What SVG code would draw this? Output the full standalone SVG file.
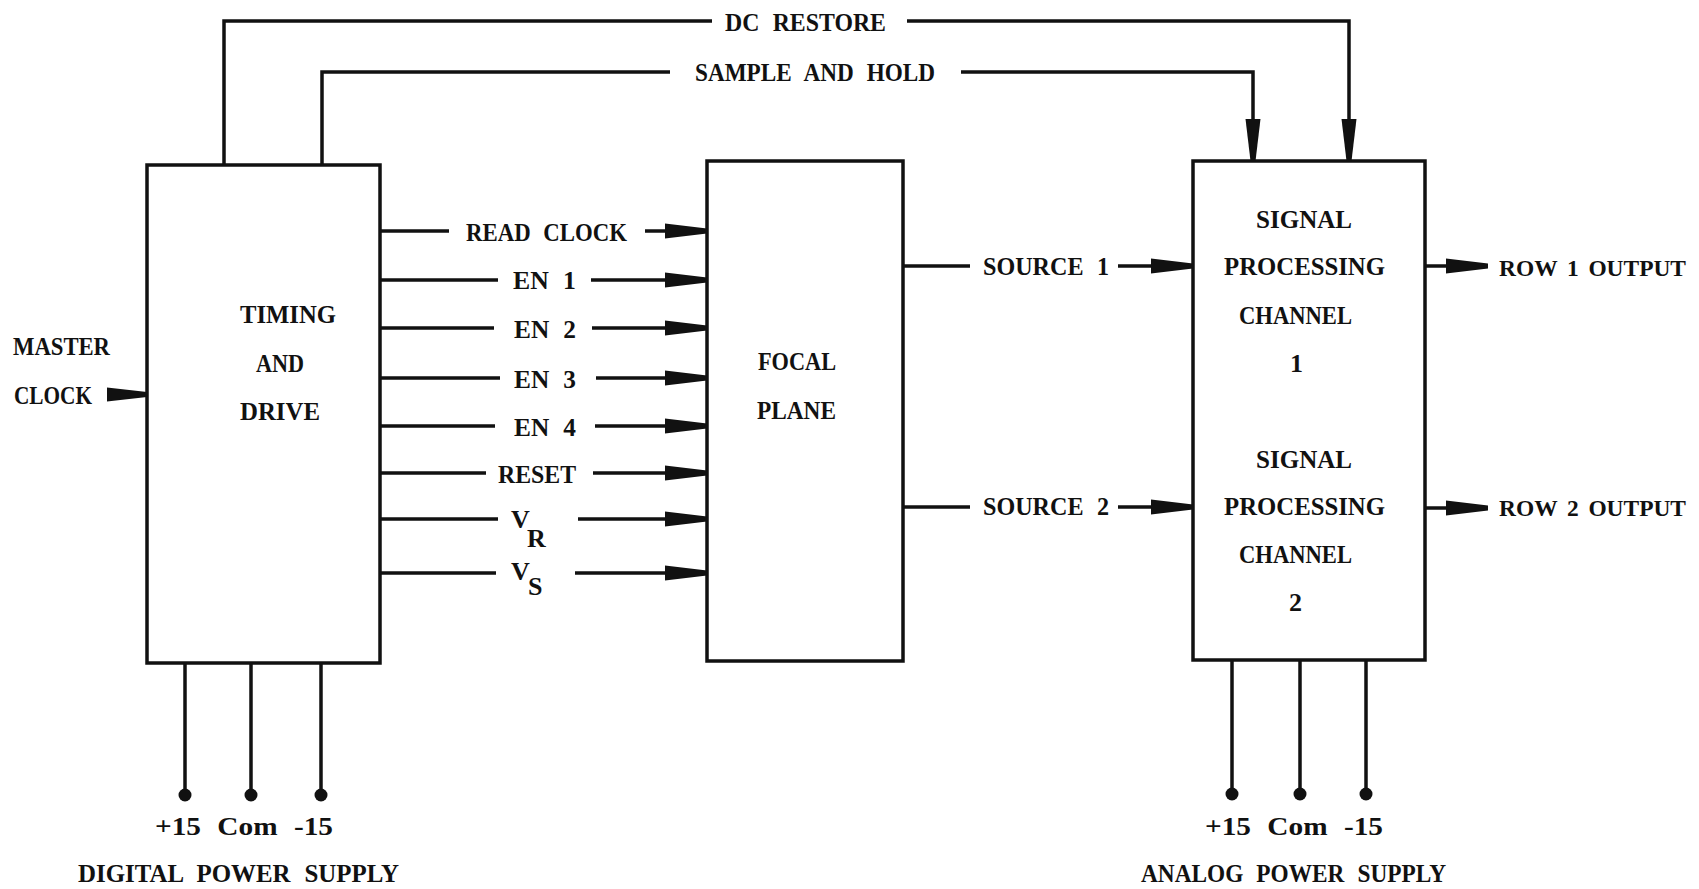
<svg xmlns="http://www.w3.org/2000/svg" width="1699" height="889" viewBox="0 0 1699 889">
<style>
.t{font-family:"Liberation Serif","DejaVu Serif",serif;font-weight:bold;font-size:26px;fill:#111;word-spacing:8px}
.o{font-size:24px;word-spacing:4px}
.box{fill:none;stroke:#111;stroke-width:3.5}
.ln{fill:none;stroke:#111;stroke-width:3.5}
.dot{fill:#111}
</style>
<defs>
<marker id="ah" viewBox="0 -8 42 16" markerWidth="42" markerHeight="16" refX="42" refY="0" orient="auto" markerUnits="userSpaceOnUse">
<path d="M0,-7.5 L42,-2.5 L42,2.5 L0,7.5 Z" fill="#111"/>
</marker>
</defs>
<rect width="1699" height="889" fill="#fff"/>

<g id="timing">
<rect class="box" x="147" y="165" width="233" height="498"/>
<text class="t" x="240" y="323" textLength="96" lengthAdjust="spacingAndGlyphs">TIMING</text>
<text class="t" x="256" y="372" textLength="48" lengthAdjust="spacingAndGlyphs">AND</text>
<text class="t" x="240" y="420" textLength="80" lengthAdjust="spacingAndGlyphs">DRIVE</text>
</g>

<g id="focal">
<rect class="box" x="707" y="161" width="196" height="500"/>
<text class="t" x="758" y="370" textLength="78" lengthAdjust="spacingAndGlyphs">FOCAL</text>
<text class="t" x="757" y="419" textLength="79" lengthAdjust="spacingAndGlyphs">PLANE</text>
</g>

<g id="signal">
<rect class="box" x="1193" y="161" width="232" height="499"/>
<text class="t" x="1256" y="228" textLength="96" lengthAdjust="spacingAndGlyphs">SIGNAL</text>
<text class="t" x="1224" y="275" textLength="161" lengthAdjust="spacingAndGlyphs">PROCESSING</text>
<text class="t" x="1239" y="324" textLength="113" lengthAdjust="spacingAndGlyphs">CHANNEL</text>
<text class="t" x="1290" y="372">1</text>
<text class="t" x="1256" y="468" textLength="96" lengthAdjust="spacingAndGlyphs">SIGNAL</text>
<text class="t" x="1224" y="515" textLength="161" lengthAdjust="spacingAndGlyphs">PROCESSING</text>
<text class="t" x="1239" y="563" textLength="113" lengthAdjust="spacingAndGlyphs">CHANNEL</text>
<text class="t" x="1289" y="611">2</text>
</g>

<g id="master-clock">
<text class="t" x="13" y="355" textLength="97" lengthAdjust="spacingAndGlyphs">MASTER</text>
<text class="t" x="14" y="404" textLength="78" lengthAdjust="spacingAndGlyphs">CLOCK</text>
</g>

<g id="digital-supply">
<line class="ln" x1="185" y1="664" x2="185" y2="795"/>
<line class="ln" x1="251" y1="664" x2="251" y2="795"/>
<line class="ln" x1="321" y1="664" x2="321" y2="795"/>
<circle class="dot" cx="185" cy="795" r="6.5"/>
<circle class="dot" cx="251" cy="795" r="6.5"/>
<circle class="dot" cx="321" cy="795" r="6.5"/>
<text class="t" x="155" y="835" textLength="178" lengthAdjust="spacingAndGlyphs">+15 Com -15</text>
<text class="t" x="78" y="882" textLength="321" lengthAdjust="spacingAndGlyphs">DIGITAL POWER SUPPLY</text>
</g>

<g id="analog-supply">
<line class="ln" x1="1232" y1="661" x2="1232" y2="794"/>
<line class="ln" x1="1300" y1="661" x2="1300" y2="794"/>
<line class="ln" x1="1366" y1="661" x2="1366" y2="794"/>
<circle class="dot" cx="1232" cy="794" r="6.5"/>
<circle class="dot" cx="1300" cy="794" r="6.5"/>
<circle class="dot" cx="1366" cy="794" r="6.5"/>
<text class="t" x="1205" y="835" textLength="178" lengthAdjust="spacingAndGlyphs">+15 Com -15</text>
<text class="t" x="1141" y="882" textLength="305" lengthAdjust="spacingAndGlyphs">ANALOG POWER SUPPLY</text>
</g>

<g id="connectors">
<!-- DC restore -->
<path class="ln" d="M224,165 V21 H712"/>
<path class="ln" d="M907,21 H1349 V161" marker-end="url(#ah)"/>
<text class="t" x="725" y="31" textLength="161" lengthAdjust="spacingAndGlyphs">DC RESTORE</text>
<!-- Sample and hold -->
<path class="ln" d="M322,165 V72 H670"/>
<path class="ln" d="M961,72 H1253 V161" marker-end="url(#ah)"/>
<text class="t" x="695" y="81" textLength="240" lengthAdjust="spacingAndGlyphs">SAMPLE AND HOLD</text>
<!-- Timing to focal plane -->
<path class="ln" d="M380,231 H449"/>
<path class="ln" d="M645,231 H707" marker-end="url(#ah)"/>
<text class="t" x="466" y="241" textLength="161" lengthAdjust="spacingAndGlyphs">READ CLOCK</text>
<path class="ln" d="M380,280 H498"/>
<path class="ln" d="M591,280 H707" marker-end="url(#ah)"/>
<text class="t" x="513" y="289" textLength="63" lengthAdjust="spacingAndGlyphs">EN 1</text>
<path class="ln" d="M380,328 H494"/>
<path class="ln" d="M592,328 H707" marker-end="url(#ah)"/>
<text class="t" x="514" y="338" textLength="62" lengthAdjust="spacingAndGlyphs">EN 2</text>
<path class="ln" d="M380,378 H500"/>
<path class="ln" d="M596,378 H707" marker-end="url(#ah)"/>
<text class="t" x="514" y="388" textLength="62" lengthAdjust="spacingAndGlyphs">EN 3</text>
<path class="ln" d="M380,426 H495"/>
<path class="ln" d="M595,426 H707" marker-end="url(#ah)"/>
<text class="t" x="514" y="436" textLength="62" lengthAdjust="spacingAndGlyphs">EN 4</text>
<path class="ln" d="M380,473 H486"/>
<path class="ln" d="M593,473 H707" marker-end="url(#ah)"/>
<text class="t" x="498" y="483" textLength="78" lengthAdjust="spacingAndGlyphs">RESET</text>
<path class="ln" d="M380,519 H498"/>
<path class="ln" d="M578,519 H707" marker-end="url(#ah)"/>
<text class="t" x="511" y="528">V</text>
<text class="t" x="527" y="547">R</text>
<path class="ln" d="M380,573 H496"/>
<path class="ln" d="M575,573 H707" marker-end="url(#ah)"/>
<text class="t" x="511" y="580">V</text>
<text class="t" x="528" y="595">S</text>
<!-- Master clock input -->
<path d="M107,387.5 L147,392 L147,397 L107,401.5 Z" fill="#111"/>
<!-- Focal plane to signal processing -->
<path class="ln" d="M903,266 H970"/>
<path class="ln" d="M1118,266 H1193" marker-end="url(#ah)"/>
<text class="t" x="983" y="275" textLength="126" lengthAdjust="spacingAndGlyphs">SOURCE 1</text>
<path class="ln" d="M903,507 H970"/>
<path class="ln" d="M1118,507 H1193" marker-end="url(#ah)"/>
<text class="t" x="983" y="515" textLength="126" lengthAdjust="spacingAndGlyphs">SOURCE 2</text>
<!-- Outputs -->
<path class="ln" d="M1425,266 H1488" marker-end="url(#ah)"/>
<text class="t o" x="1499" y="276" textLength="187" lengthAdjust="spacingAndGlyphs">ROW 1 OUTPUT</text>
<path class="ln" d="M1425,508 H1488" marker-end="url(#ah)"/>
<text class="t o" x="1499" y="516" textLength="187" lengthAdjust="spacingAndGlyphs">ROW 2 OUTPUT</text>
</g>
</svg>
